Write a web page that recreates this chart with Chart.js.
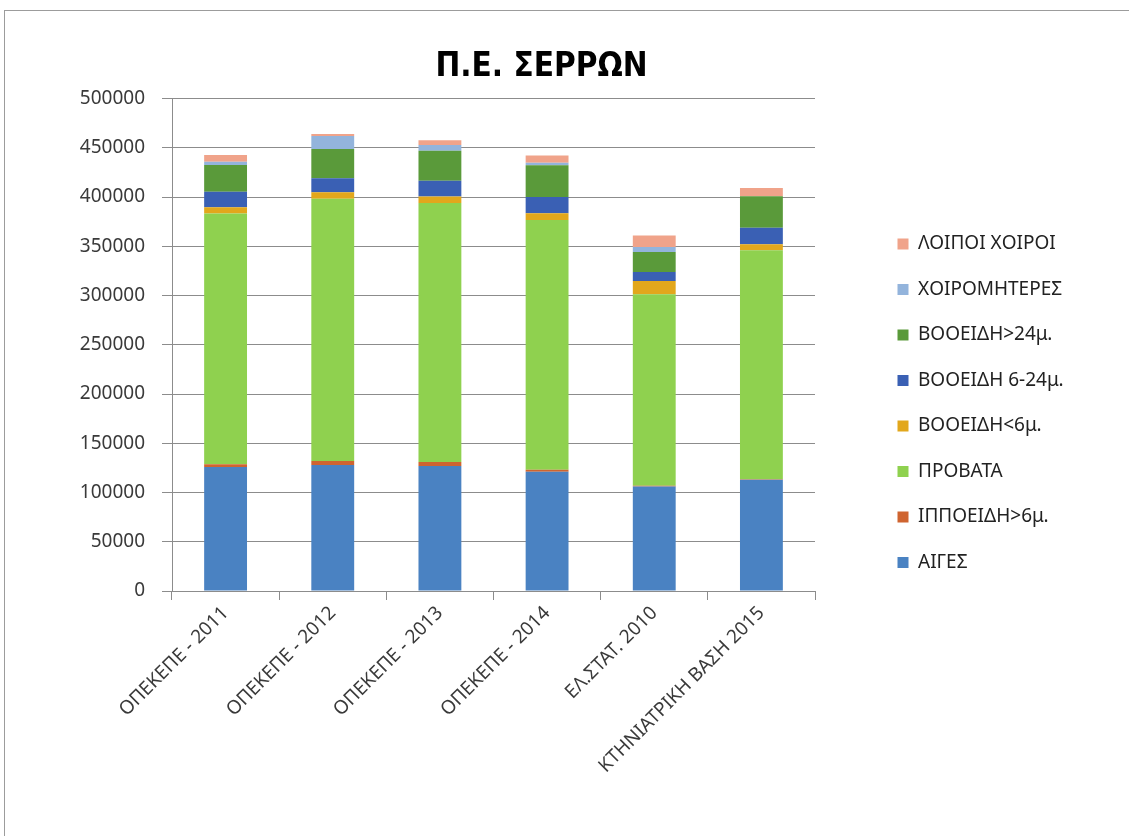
<!DOCTYPE html>
<html lang="el">
<head>
<meta charset="utf-8">
<title>Π.Ε. ΣΕΡΡΩΝ</title>
<script src="https://cdn.jsdelivr.net/npm/chart.js@4.4.1/dist/chart.umd.min.js"></script>
<style>
    html, body { margin: 0; padding: 0; background: #fff; overflow: hidden; }
    .frame {
        position: absolute; left: 4px; top: 10px; width: 1200px; height: 900px;
        border-top: 1px solid #9c9c9c; border-left: 1px solid #9c9c9c;
    }
    .wrap { position: absolute; left: 0; top: 0; width: 1129px; height: 836px; }
</style>
</head>
<body>
<div class="frame"></div>
<div class="wrap"><canvas id="chart"></canvas></div>
<script>
const categories = [
    'ΟΠΕΚΕΠΕ - 2011',
    'ΟΠΕΚΕΠΕ - 2012',
    'ΟΠΕΚΕΠΕ - 2013',
    'ΟΠΕΚΕΠΕ - 2014',
    'ΕΛ.ΣΤΑΤ. 2010',
    'ΚΤΗΝΙΑΤΡΙΚΗ ΒΑΣΗ 2015',
];

// one array per animal group, bottom of the stack first
const aiges = [126000, 128000, 127000, 121000, 106000, 113000];
const ippoeidi = [2700, 4000, 4000, 2000, 1000, 500];
const provata = [254500, 266200, 263000, 253800, 194400, 232500];
const vooeidiUnder6 = [6400, 6800, 6700, 6800, 13500, 6000];
const vooeidi6to24 = [15900, 14200, 15900, 16500, 9100, 16800];
const vooeidiOver24 = [27000, 29700, 30400, 32100, 20300, 32100];
const xoiromiteres = [3400, 13200, 5800, 2600, 5000, 0];
const loipoiXoiroi = [6800, 2000, 5000, 7500, 11800, 8400];

const seriesNames = [
    'ΑΙΓΕΣ',
    'ΙΠΠΟΕΙΔΗ>6μ.',
    'ΠΡΟΒΑΤΑ',
    'ΒΟΟΕΙΔΗ<6μ.',
    'ΒΟΟΕΙΔΗ 6-24μ.',
    'ΒΟΟΕΙΔΗ>24μ.',
    'ΧΟΙΡΟΜΗΤΕΡΕΣ',
    'ΛΟΙΠΟΙ ΧΟΙΡΟΙ',
];
const seriesValues = [aiges, ippoeidi, provata, vooeidiUnder6, vooeidi6to24, vooeidiOver24, xoiromiteres, loipoiXoiroi];

const yTicks = { min: 0, max: 500000, step: 50000 };

const palette = ['#4a82c2', '#cf6430', '#8fd14f', '#e2a71c', '#3a60b4', '#5a9a3a', '#93b4dc', '#f0a38a'];
const axisColor = '#8c8c8c';
const textColor = '#3a3a3a';

Chart.defaults.font.family = '"Noto Sans", "DejaVu Sans", sans-serif';
Chart.defaults.font.size = 19;
Chart.defaults.color = textColor;

// move title and legend to where the spreadsheet put them
const placeBlocks = {
    id: 'placeBlocks',
    afterLayout(chart) {
        const legend = chart.legend;
        const w = legend.width;
        const h = legend.height;
        legend.left = 871;
        legend.right = legend.left + w;
        legend.top = 208;
        legend.bottom = legend.top + h;

        const title = chart.titleBlock;
        title.left = -23;
        title.right = chart.width - 23;
    },
};

new Chart(document.getElementById('chart'), {
    type: 'bar',
    data: {
        labels: categories,
        datasets: seriesValues.map((values, i) => ({
            label: seriesNames[i],
            data: values,
            backgroundColor: palette[i],
            borderWidth: 0,
            categoryPercentage: 0.8,
            barPercentage: 0.5,
        })),
    },
    options: {
        responsive: true,
        maintainAspectRatio: false,
        animation: false,
        layout: {
            padding: { top: 0, left: 0, bottom: 0, right: 314 },
        },
        scales: {
            x: {
                stacked: true,
                afterFit: (scale) => { scale.height = 245; },
                grid: {
                    display: true,
                    drawOnChartArea: false,
                    offset: true,
                    tickLength: 9,
                    color: axisColor,
                },
                border: { color: axisColor },
                ticks: {
                    autoSkip: false,
                    minRotation: 45,
                    maxRotation: 45,
                    padding: 2,
                    color: textColor,
                },
            },
            y: {
                stacked: true,
                min: yTicks.min,
                max: yTicks.max,
                afterFit: (scale) => { scale.width = 172; },
                grid: {
                    color: axisColor,
                    tickLength: 10,
                },
                border: { color: axisColor },
                ticks: {
                    stepSize: yTicks.step,
                    padding: 17,
                    color: textColor,
                    callback: (value) => String(value),
                },
            },
        },
        plugins: {
            title: {
                display: true,
                text: 'Π.Ε. ΣΕΡΡΩΝ',
                color: '#000',
                font: { family: '"DejaVu Sans Condensed", "DejaVu Sans", sans-serif', size: 33, weight: 'bold' },
                padding: { top: 48, bottom: 11 },
            },
            legend: {
                position: 'chartArea',
                align: 'start',
                reverse: true,
                labels: {
                    boxWidth: 11,
                    boxHeight: 11,
                    padding: 26.5,
                    color: '#222',
                    font: { size: 19 },
                },
            },
            tooltip: { enabled: false },
        },
    },
    plugins: [placeBlocks],
});
</script>
</body>
</html>
